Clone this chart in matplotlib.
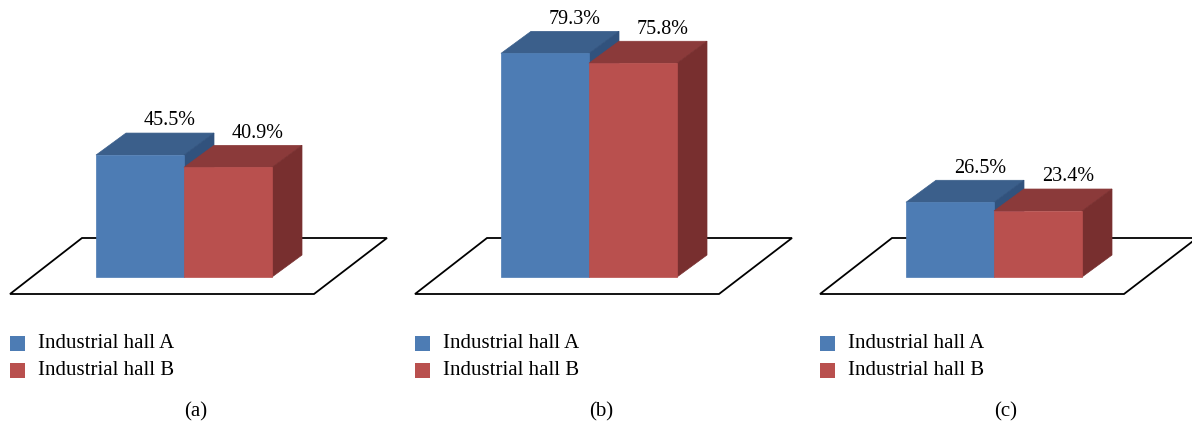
import matplotlib.pyplot as plt
from matplotlib.patches import Polygon, Rectangle

plt.rcParams['font.family'] = ['Liberation Serif', 'DejaVu Serif']

# Share (%) for each panel
panels = ['(a)', '(b)', '(c)']
hall_a = [45.5, 79.3, 26.5]
hall_b = [40.9, 75.8, 23.4]
series_names = ['Industrial hall A', 'Industrial hall B']

# front / top / side shades for each series
shades = [('#4d7cb4', '#3b5f8b', '#31527d'),
          ('#b9504e', '#8b3a3a', '#782f2f')]

W, H = 1192, 425
fig = plt.figure(figsize=(W / 100, H / 100), dpi=100)

bar_px = 88             # bar width in pixels
px_per_pct = [2.68, 2.82, 2.82]
pitch = 405
depth_px = (30, 22)


def bar3d(ax, x0, val, cols, dx, dy):
    front, top, side = cols
    ax.add_patch(Polygon([(x0, val), (x0 + dx, val + dy), (x0 + 1 + dx, val + dy), (x0 + 1, val)],
                         closed=True, fc=top, ec=top, lw=0.5))
    ax.add_patch(Polygon([(x0 + 1, 0), (x0 + 1, val), (x0 + 1 + dx, val + dy), (x0 + 1 + dx, dy)],
                         closed=True, fc=side, ec=side, lw=0.5))
    ax.add_patch(Rectangle((x0, 0), 1, val, fc=front, ec=front, lw=0.5))


for i, name in enumerate(panels):
    ox = pitch * i
    s = px_per_pct[i]
    ax = fig.add_axes([ox / W, 100 / H, 400 / W, 325 / H])
    ax.set_xlim(-96 / bar_px, 304 / bar_px)
    ax.set_ylim(-48 / s, 277 / s)
    ax.axis('off')

    dx, dy = depth_px[0] / bar_px, depth_px[1] / s

    # floor plate
    floor = [(-86 / bar_px, -17 / s), (218 / bar_px, -17 / s),
             (291 / bar_px, 39 / s), (-14 / bar_px, 39 / s)]
    ax.add_patch(Polygon(floor, closed=True, fc='white', ec='black', lw=1.3))

    vals = [hall_a[i], hall_b[i]]
    for k, v in enumerate(vals):
        bar3d(ax, k, v, shades[k], dx, dy)
        ax.annotate(f'{v}%', (k + 0.5 + dx, v + dy), xytext=(0, 5.5),
                    textcoords='offset points', ha='center', va='baseline',
                    fontsize=14.5)

    # legend
    for k, lab in enumerate(series_names):
        yc = 81.5 - 27 * k
        fig.add_artist(Rectangle(((ox + 10) / W, (yc - 7.5) / H), 15 / W, 15 / H,
                                 transform=fig.transFigure, fc=shades[k][0], ec='none'))
        fig.text((ox + 38) / W, yc / H, lab, ha='left', va='center', fontsize=15)

    fig.text((ox + 196) / W, 13 / H, name, ha='center', va='center', fontsize=15)

fig.savefig('out.png', dpi=100)
